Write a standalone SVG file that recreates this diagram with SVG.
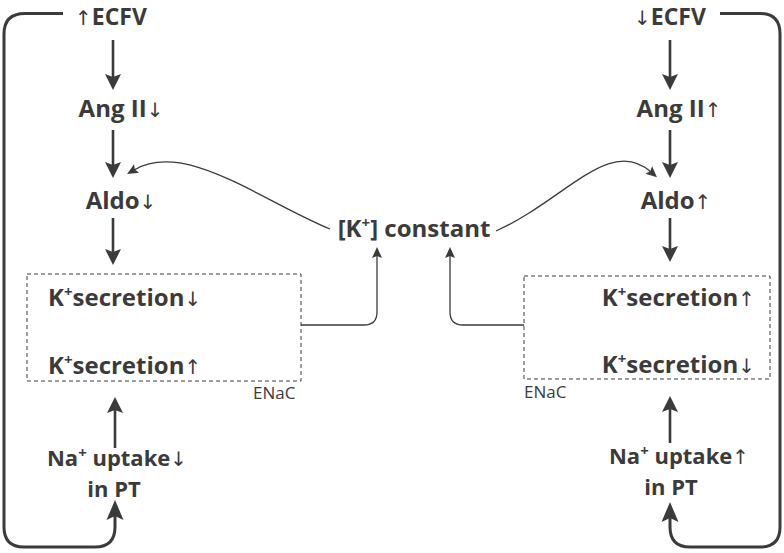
<svg xmlns="http://www.w3.org/2000/svg" width="784" height="553" viewBox="0 0 784 553">
<style>
.t{font-family:"Open Sans","Noto Sans","DejaVu Sans",sans-serif;font-weight:bold;font-size:24px;fill:#3b3b3b}
.top{font-size:23px}
.na{font-size:22px}
.a{font-family:"DejaVu Sans",sans-serif;font-weight:normal;font-size:20px}
.sup{font-size:15px}
.en{font-family:"Open Sans","Noto Sans",sans-serif;font-size:17px;fill:#3b3b3b}
.thick{fill:none;stroke:#3b3b3b;stroke-width:2.6}
.loop{fill:none;stroke:#3b3b3b;stroke-width:3}
.thin{fill:none;stroke:#3b3b3b;stroke-width:1.3}
.box{fill:none;stroke:#3b3b3b;stroke-width:1;stroke-dasharray:4 3}
</style>
<defs>
<marker id="hd" markerUnits="userSpaceOnUse" viewBox="-2 -10 20 20" refX="6" refY="0" markerWidth="20" markerHeight="20" orient="auto">
<path d="M0,-8 L16,0 L0,8 L3,0 Z" fill="#3b3b3b"/>
</marker>
<marker id="hdL" markerUnits="userSpaceOnUse" viewBox="-2 -10 24 20" refX="6" refY="0" markerWidth="24" markerHeight="20" orient="auto">
<path d="M0,-8.5 L20,0 L0,8.5 L4,0 Z" fill="#3b3b3b"/>
</marker>
<marker id="hs" markerUnits="userSpaceOnUse" viewBox="-2 -6 14 12" refX="3" refY="0" markerWidth="14" markerHeight="12" orient="auto">
<path d="M0,-5 L11,0 L0,5 L2,0 Z" fill="#3b3b3b"/>
</marker>
</defs>
<g id="connectors">
<path class="loop" d="M63,13.5 H25 Q4,13.5 4,34 V527 Q4,547 24,547 H95 Q115,547 115,527 V514" marker-end="url(#hdL)"/>
<path class="loop" d="M720,13.5 H760 Q780,13.5 780,34 V527 Q780,547 760,547 H690 Q670,547 670,527 V516" marker-end="url(#hdL)"/>
<path class="thick" d="M113,40 V80" marker-end="url(#hd)"/>
<path class="thick" d="M113,130 V168" marker-end="url(#hd)"/>
<path class="thick" d="M113,218 V255" marker-end="url(#hd)"/>
<path class="thick" d="M670,40 V80" marker-end="url(#hd)"/>
<path class="thick" d="M670,130 V168" marker-end="url(#hd)"/>
<path class="thick" d="M670,218 V252" marker-end="url(#hd)"/>
<path class="thick" d="M115,448 V407" marker-end="url(#hd)"/>
<path class="thick" d="M670,443 V406" marker-end="url(#hd)"/>
<path class="thin" d="M301,325 H364 Q377,325 377,312 V255" marker-end="url(#hs)"/>
<path class="thin" d="M524,325 H463 Q450,325 450,312 V255" marker-end="url(#hs)"/>
<path class="thin" d="M330,229 C260,200 185,140 134,170" marker-end="url(#hs)"/>
<path class="thin" d="M496,231 C565,200 610,135 651,172" marker-end="url(#hs)"/>
</g>
<g id="ecfv-up"><text class="t top" x="111" y="25" text-anchor="middle"><tspan class="a">↑&#xFE0E;</tspan>ECFV</text></g>
<g id="angii-down"><text class="t" x="121" y="117" text-anchor="middle">Ang II<tspan class="a">↓&#xFE0E;</tspan></text></g>
<g id="aldo-down"><text class="t" x="121" y="209" text-anchor="middle">Aldo<tspan class="a">↓&#xFE0E;</tspan></text></g>
<g id="box-left">
<rect class="box" x="27" y="274" width="274" height="107"/>
<text class="t" x="48" y="306">K<tspan class="sup" dy="-9">+</tspan><tspan dy="9">secretion</tspan><tspan class="a">↓&#xFE0E;</tspan></text>
<text class="t" x="48" y="374">K<tspan class="sup" dy="-9">+</tspan><tspan dy="9">secretion</tspan><tspan class="a">↑&#xFE0E;</tspan></text>
<text class="en" x="253" y="399">ENaC</text>
</g>
<g id="na-left"><text class="t na" x="117" y="466" text-anchor="middle">Na<tspan class="sup" dy="-8">+</tspan><tspan dy="8"> uptake</tspan><tspan class="a">↓&#xFE0E;</tspan></text>
<text class="t na" x="114" y="497" text-anchor="middle">in PT</text></g>
<g id="k-constant"><text class="t" x="414" y="237" text-anchor="middle">[K<tspan class="sup" dy="-9">+</tspan><tspan dy="9">] constant</tspan></text></g>
<g id="ecfv-down"><text class="t top" x="670" y="25" text-anchor="middle"><tspan class="a">↓&#xFE0E;</tspan>ECFV</text></g>
<g id="angii-up"><text class="t" x="679" y="117" text-anchor="middle">Ang II<tspan class="a">↑&#xFE0E;</tspan></text></g>
<g id="aldo-up"><text class="t" x="676" y="209" text-anchor="middle">Aldo<tspan class="a">↑&#xFE0E;</tspan></text></g>
<g id="box-right">
<rect class="box" x="524" y="276" width="246" height="103"/>
<text class="t" x="755" y="306" text-anchor="end">K<tspan class="sup" dy="-9">+</tspan><tspan dy="9">secretion</tspan><tspan class="a">↑&#xFE0E;</tspan></text>
<text class="t" x="755" y="373" text-anchor="end">K<tspan class="sup" dy="-9">+</tspan><tspan dy="9">secretion</tspan><tspan class="a">↓&#xFE0E;</tspan></text>
<text class="en" x="524" y="398">ENaC</text>
</g>
<g id="na-right"><text class="t na" x="679" y="464" text-anchor="middle">Na<tspan class="sup" dy="-8">+</tspan><tspan dy="8"> uptake</tspan><tspan class="a">↑&#xFE0E;</tspan></text>
<text class="t na" x="671" y="495" text-anchor="middle">in PT</text></g>
</svg>
